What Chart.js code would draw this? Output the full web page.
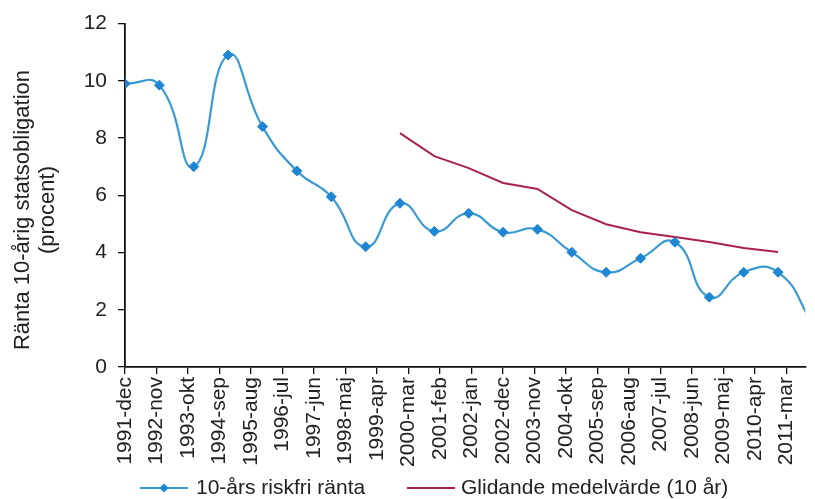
<!DOCTYPE html>
<html>
<head>
<meta charset="utf-8">
<script src="https://cdn.jsdelivr.net/npm/chart.js@4"></script>
<style>
  html, body { margin: 0; padding: 0; background: #fff; }
  #wrap { width: 815px; height: 499px; }
</style>
</head>
<body>
<div id="wrap"><canvas id="grafico"></canvas></div>
<script>
// årsvärden (december varje år)
const ar = [1991, 1992, 1993, 1994, 1995, 1996, 1997, 1998, 1999, 2000, 2001,
            2002, 2003, 2004, 2005, 2006, 2007, 2008, 2009, 2010, 2011];
const ranta = [9.9, 9.85, 7.0, 10.9, 8.4, 6.85, 5.95, 4.2, 5.72, 4.74, 5.37,
               4.71, 4.81, 4.01, 3.31, 3.8, 4.36, 2.44, 3.31, 3.31, 1.55];

const arMedel = [1999, 2000, 2001, 2002, 2003, 2004, 2005, 2006, 2007, 2008, 2009, 2010];
const medel = [8.17, 7.37, 6.95, 6.43, 6.22, 5.48, 4.99, 4.71, 4.54, 4.37, 4.16, 4.02];

// etiketter på x-axeln, en var 11:e månad från 1991-dec
const xEtiketter = ['1991-dec', '1992-nov', '1993-okt', '1994-sep', '1995-aug', '1996-jul',
  '1997-jun', '1998-maj', '1999-apr', '2000-mar', '2001-feb', '2002-jan', '2002-dec',
  '2003-nov', '2004-okt', '2005-sep', '2006-aug', '2007-jul', '2008-jun', '2009-maj',
  '2010-apr', '2011-mar'];
const yTitel = ['Ränta 10-årig statsobligation', '(procent)'];

const BLA = '#3a9ad4';
const BLA_PUNKT = '#1f86d4';
const ROD = '#a8214f';
const TEXT = '#222';
const FONT = "'Liberation Sans', Arial, sans-serif";

// månader efter 1991-dec
const manad = a => (a - 1991) * 12;

const extraText = {
  id: 'extraText',
  afterDraw(chart) {
    const ctx = chart.ctx;
    ctx.save();
    // y-axelns titel
    ctx.fillStyle = TEXT;
    ctx.font = '22px ' + FONT;
    ctx.textAlign = 'center';
    ctx.textBaseline = 'middle';
    ctx.translate(23, 210);
    ctx.rotate(-Math.PI / 2);
    ctx.fillText(yTitel[0], 0, 0);
    ctx.fillText(yTitel[1], 0, 25);
    ctx.setTransform(1, 0, 0, 1, 0, 0);
    ctx.scale(chart.currentDevicePixelRatio, chart.currentDevicePixelRatio);

    // förklaring
    const y = 488;
    ctx.font = '21px ' + FONT;
    ctx.textAlign = 'left';
    ctx.lineWidth = 2;
    ctx.strokeStyle = BLA;
    ctx.beginPath(); ctx.moveTo(140, y); ctx.lineTo(188, y); ctx.stroke();
    ctx.fillStyle = BLA_PUNKT;
    ctx.beginPath();
    ctx.moveTo(164, y - 4.5); ctx.lineTo(168.5, y); ctx.lineTo(164, y + 4.5); ctx.lineTo(159.5, y);
    ctx.closePath(); ctx.fill();
    ctx.fillStyle = TEXT;
    ctx.fillText(chart.data.datasets[0].label, 196, y);

    ctx.strokeStyle = ROD;
    ctx.beginPath(); ctx.moveTo(407, y); ctx.lineTo(455, y); ctx.stroke();
    ctx.fillText(chart.data.datasets[1].label, 461, y);
    ctx.restore();
  }
};

const ctx = document.getElementById('grafico').getContext('2d');
new Chart(ctx, {
  type: 'line',
  data: {
    datasets: [{
      label: '10-års riskfri ränta',
      data: ar.map((a, i) => ({ x: manad(a), y: ranta[i] })),
      borderColor: BLA,
      borderWidth: 2.2,
      tension: 0.5,
      pointStyle: 'rectRot',
      pointRadius: 5,
      pointBackgroundColor: BLA_PUNKT,
      pointBorderColor: BLA_PUNKT,
      pointBorderWidth: 1
    }, {
      label: 'Glidande medelvärde (10 år)',
      data: arMedel.map((a, i) => ({ x: manad(a), y: medel[i] })),
      borderColor: ROD,
      borderWidth: 2,
      tension: 0,
      pointRadius: 0
    }]
  },
  options: {
    responsive: true,
    maintainAspectRatio: false,
    animation: false,
    layout: { padding: { top: 23, left: 0, right: 0, bottom: 0 } },
    plugins: {
      legend: { display: false },
      tooltip: { enabled: false }
    },
    scales: {
      x: {
        type: 'linear',
        min: 0,
        max: 237.5,
        afterBuildTicks: s => { s.ticks = xEtiketter.map((_, i) => ({ value: i * 11 })); },
        afterFit: s => { s.height = 132; },
        ticks: {
          autoSkip: false,
          minRotation: 90,
          maxRotation: 90,
          padding: 3,
          color: TEXT,
          font: { family: FONT, size: 21 },
          callback: v => xEtiketter[Math.round(v / 11)]
        },
        grid: { drawOnChartArea: false, tickLength: 7, color: '#111', lineWidth: 1.3 },
        border: { color: '#111', width: 1.8 }
      },
      y: {
        min: 0,
        max: 12,
        afterFit: s => { s.width = 125; },
        ticks: {
          stepSize: 2,
          padding: 11,
          color: TEXT,
          font: { family: FONT, size: 21 }
        },
        grid: { drawOnChartArea: false, tickLength: 7, color: '#111', lineWidth: 1.3 },
        border: { color: '#111', width: 1.8 }
      }
    }
  },
  plugins: [extraText]
});
</script>
</body>
</html>
